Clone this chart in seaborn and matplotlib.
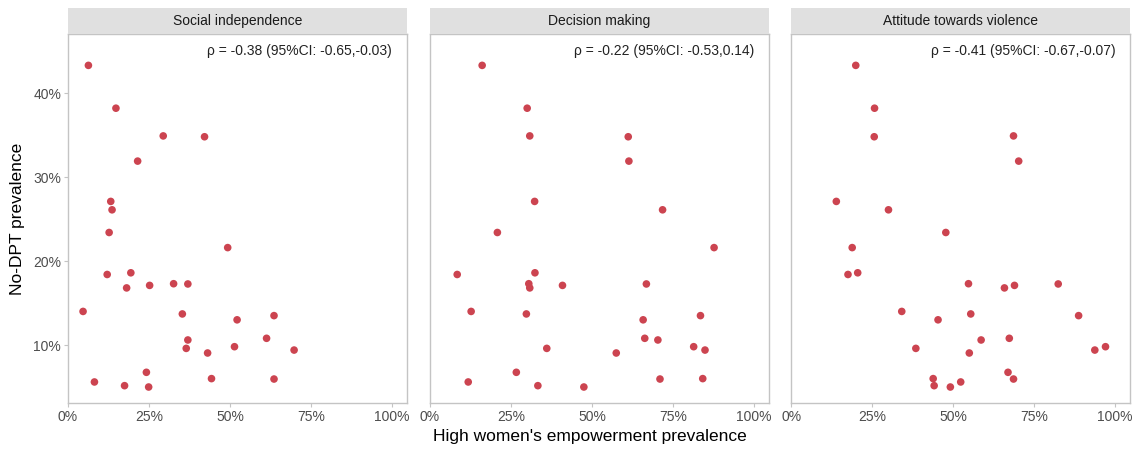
import numpy as np
import pandas as pd
import matplotlib
matplotlib.use('Agg')
import matplotlib.pyplot as plt
import seaborn as sns
from matplotlib.ticker import PercentFormatter

# ------------------------------------------------------------------
# data (one point per country, same y in every panel)
no_dpt = [0.433, 0.382, 0.349, 0.348, 0.319, 0.271, 0.261, 0.234, 0.216, 0.184,
          0.186, 0.168, 0.171, 0.173, 0.1727, 0.140, 0.137, 0.130, 0.135, 0.106,
          0.096, 0.0905, 0.098, 0.108, 0.094, 0.056, 0.0675, 0.0516, 0.050, 0.060,
          0.0595]

social_indep = [0.063, 0.148, 0.294, 0.4215, 0.215, 0.132, 0.136, 0.127, 0.493, 0.121,
                0.194, 0.181, 0.252, 0.326, 0.370, 0.0465, 0.353, 0.522, 0.636, 0.370,
                0.365, 0.431, 0.514, 0.613, 0.698, 0.0816, 0.242, 0.1746, 0.249, 0.443,
                0.636]

decision = [0.161, 0.300, 0.308, 0.612, 0.614, 0.323, 0.718, 0.208, 0.877, 0.084,
            0.324, 0.308, 0.409, 0.305, 0.668, 0.127, 0.2975, 0.658, 0.835, 0.7035,
            0.3605, 0.575, 0.814, 0.663, 0.849, 0.118, 0.2665, 0.333, 0.475, 0.842,
            0.710]

violence = [0.199, 0.257, 0.686, 0.256, 0.702, 0.139, 0.300, 0.477, 0.188, 0.175,
            0.205, 0.658, 0.689, 0.547, 0.824, 0.341, 0.554, 0.453, 0.887, 0.586,
            0.3845, 0.5495, 0.970, 0.673, 0.937, 0.523, 0.669, 0.441, 0.491, 0.438,
            0.686]

panels = ['Social independence', 'Decision making', 'Attitude towards violence']
rho_labels = ['ρ = -0.38 (95%CI: -0.65,-0.03)',
              'ρ = -0.22 (95%CI: -0.53,0.14)',
              'ρ = -0.41 (95%CI: -0.67,-0.07)']
x_ticks = [0, 0.25, 0.5, 0.75, 1.0]
y_ticks = [0.1, 0.2, 0.3, 0.4]


def build_df():
    frames = []
    for name, xs in zip(panels, [social_indep, decision, violence]):
        frames.append(pd.DataFrame({'panel': name, 'empowerment': xs, 'no_dpt': no_dpt}))
    return pd.concat(frames, ignore_index=True)


def draw(df):
    sns.set_theme(style='white')
    plt.rcParams['font.family'] = ['Liberation Sans', 'DejaVu Sans']

    fig = plt.figure(figsize=(11.38, 4.49), dpi=100)
    W, H = 1138, 449
    lefts = [68, 430, 791.3]
    pw = 338.5
    top, bottom = 34.3, 403.3
    strip_top = 8

    spine_col = '#C4C4C4'
    text_col = '#4D4D4D'

    for i, name in enumerate(panels):
        ax = fig.add_axes([lefts[i] / W, (H - bottom) / H, pw / W, (bottom - top) / H])
        sub = df[df['panel'] == name]
        sns.scatterplot(data=sub, x='empowerment', y='no_dpt', ax=ax,
                        color='#CC4450', s=30, edgecolor='none', legend=False)
        ax.set_xlim(0, 1.045)
        ax.set_ylim(0.0306, 0.470)
        ax.set_xticks(x_ticks)
        ax.xaxis.set_major_formatter(PercentFormatter(1.0, decimals=0))
        ax.set_xlabel('')
        ax.set_ylabel('')
        for sp in ax.spines.values():
            sp.set_color(spine_col)
            sp.set_linewidth(1.0)
        ax.tick_params(axis='both', bottom=True, left=True, colors=spine_col,
                       length=3, width=0.8, labelcolor=text_col, labelsize=10, pad=2)
        if i == 0:
            ax.set_yticks(y_ticks)
            ax.yaxis.set_major_formatter(PercentFormatter(1.0, decimals=0))
        else:
            ax.set_yticks([])
        ax.text(1.0, 0.45, rho_labels[i], ha='right', va='center',
                fontsize=10, color='#222222')

        # facet strip
        sax = fig.add_axes([lefts[i] / W, (H - top) / H, pw / W, (top - strip_top) / H])
        sax.set_facecolor('#E0E0E0')
        sax.set_xticks([])
        sax.set_yticks([])
        for sp in sax.spines.values():
            sp.set_visible(False)
        sax.text(0.5, 0.5, name, ha='center', va='center', fontsize=10,
                 color='#1A1A1A', transform=sax.transAxes)

    fig.text(18 / W, 1 - 219 / H, 'No-DPT prevalence', rotation=90,
             ha='center', va='center', fontsize=12.5, color='black')
    fig.text(590 / W, 1 - 437 / H, "High women's empowerment prevalence",
             ha='center', va='center', fontsize=12.5, color='black')

    fig.savefig('out.png', dpi=100)


def main():
    df = build_df()
    draw(df)


if __name__ == "__main__":
    main()
